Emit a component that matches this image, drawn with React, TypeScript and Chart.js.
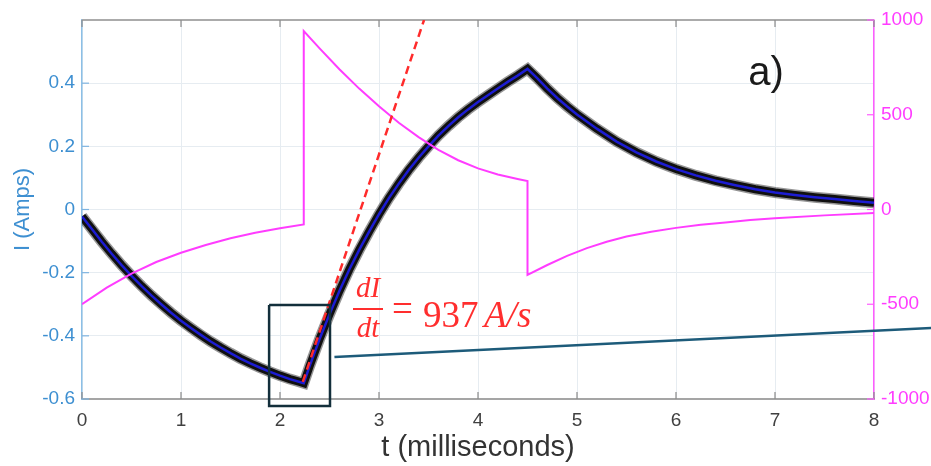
import React, { useEffect, useRef } from 'react';
import { Chart, registerables } from 'chart.js';

Chart.register(...registerables);

// ---- data ----
const T_CUR = [
  0, 0.1, 0.2, 0.3, 0.4, 0.5, 0.6, 0.7, 0.8, 0.9, 1.0, 1.1, 1.2, 1.3, 1.4, 1.5, 1.6, 1.7, 1.8, 1.9, 2.0, 2.1, 2.2, 2.24,
  2.3, 2.4, 2.5, 2.6, 2.7, 2.8, 2.9, 3.0, 3.1, 3.2, 3.3, 3.4, 3.5, 3.6, 3.7, 3.8, 3.9, 4.0, 4.1, 4.2, 4.3, 4.4, 4.5,
  4.6, 4.7, 4.8, 4.9, 5.0, 5.2, 5.4, 5.6, 5.8, 6.0, 6.2, 6.4, 6.6, 6.8, 7.0, 7.2, 7.4, 7.6, 7.8, 8.0,
];
const I_CUR = [
  -0.022, -0.062, -0.102, -0.14, -0.176, -0.21, -0.242, -0.272, -0.3, -0.327, -0.352, -0.375, -0.397, -0.418, -0.437,
  -0.455, -0.472, -0.487, -0.501, -0.514, -0.526, -0.537, -0.546, -0.55,
  -0.495, -0.41, -0.332, -0.258, -0.19, -0.128, -0.07, -0.015, 0.036, 0.082, 0.125, 0.164, 0.2, 0.234, 0.264, 0.292,
  0.317, 0.34, 0.362, 0.383, 0.404, 0.424, 0.445,
  0.415, 0.383, 0.353, 0.326, 0.301, 0.256, 0.215, 0.181, 0.152, 0.128, 0.108, 0.091, 0.077, 0.064, 0.054, 0.046,
  0.039, 0.033, 0.027, 0.021,
];
const T_V = [
  0, 0.25, 0.5, 0.75, 1.0, 1.25, 1.5, 1.75, 2.0, 2.24,
  2.24, 2.4, 2.6, 2.8, 3.0, 3.2, 3.4, 3.6, 3.8, 4.0, 4.2, 4.4, 4.5,
  4.5, 4.7, 4.9, 5.1, 5.3, 5.5, 5.75, 6.0, 6.25, 6.5, 6.75, 7.0, 7.5, 8.0,
];
const V_R = [
  -500, -412, -338, -277, -228, -187, -152, -123, -99, -79,
  941, 850, 740, 638, 545, 458, 382, 315, 260, 217, 185, 161, 150,
  -345, -293, -245, -204, -170, -143, -117, -97, -81, -68, -56, -46, -31, -18,
];
const TANGENT_T = [2.23, 3.455];
const TANGENT_I = [-0.546, 0.6];
const BOX_T = [1.89, 2.505, 2.505, 1.89, 1.89];
const BOX_I = [-0.302, -0.302, -0.622, -0.622, -0.302];
const POINTER_T = [2.55, 8.6];
const POINTER_I = [-0.467, -0.375];

const X_TICKS = [0, 1, 2, 3, 4, 5, 6, 7, 8];
const LEFT_TICKS = [-0.6, -0.4, -0.2, 0, 0.2, 0.4];
const RIGHT_TICKS = [-1000, -500, 0, 500, 1000];

const X_TITLE = 't (milliseconds)';
const Y_TITLE = 'I (Amps)';
const PANEL_LABEL = 'a)';
const SLOPE_NUM = 'dI';
const SLOPE_DEN = 'dt';
const SLOPE_VALUE = '937';
const SLOPE_UNIT = 'A/s';

const xy = (ts: number[], vs: number[]) => ts.map((t, i) => ({ x: t, y: vs[i] }));

const decor = {
  id: 'decor',
  beforeDatasetsDraw(chart: any) {
    const { ctx, chartArea: a, scales } = chart;
    const line = (x1: number, y1: number, x2: number, y2: number) => {
      ctx.beginPath();
      ctx.moveTo(x1, y1);
      ctx.lineTo(x2, y2);
      ctx.stroke();
    };
    ctx.save();
    ctx.strokeStyle = '#ababab';
    ctx.lineWidth = 2;
    line(a.left, a.top, a.right, a.top);
    ctx.lineWidth = 1.2;
    ctx.strokeStyle = '#8a8a8a';
    X_TICKS.forEach((v) => {
      const px = scales.x.getPixelForValue(v);
      line(px, a.bottom, px, a.bottom - 7);
      line(px, a.top, px, a.top + 7);
    });
    ctx.strokeStyle = '#7fb4e0';
    LEFT_TICKS.forEach((v) => {
      const py = scales.y.getPixelForValue(v);
      line(a.left, py, a.left + 7, py);
    });
    ctx.strokeStyle = '#ff5cff';
    RIGHT_TICKS.forEach((v) => {
      const py = scales.y2.getPixelForValue(v);
      line(a.right - 7, py, a.right, py);
    });
    ctx.restore();
  },
  afterDatasetsDraw(chart: any) {
    const { ctx, scales } = chart;
    ctx.save();
    // panel label
    ctx.fillStyle = '#1a1a1a';
    ctx.font = '40px "Liberation Sans", Arial, sans-serif';
    ctx.textAlign = 'left';
    ctx.textBaseline = 'alphabetic';
    ctx.fillText(PANEL_LABEL, scales.x.getPixelForValue(6.73), scales.y.getPixelForValue(0.394));

    // slope annotation
    const ax = scales.x.getPixelForValue(2.889);
    const ay = scales.y.getPixelForValue(-0.315);
    ctx.fillStyle = '#ff2e2e';
    ctx.strokeStyle = '#ff2e2e';
    ctx.textAlign = 'center';
    ctx.font = 'italic 29px "Liberation Serif", serif';
    ctx.fillText(SLOPE_NUM, ax, ay - 12);
    ctx.fillText(SLOPE_DEN, ax, ay + 28);
    ctx.lineWidth = 2;
    ctx.beginPath();
    ctx.moveTo(ax - 15, ay);
    ctx.lineTo(ax + 15, ay);
    ctx.stroke();
    ctx.textAlign = 'left';
    ctx.font = '37px "Liberation Serif", serif';
    ctx.fillText('=', ax + 24, ay + 12);
    ctx.fillText(SLOPE_VALUE, ax + 55, ay + 18);
    ctx.font = 'italic 37px "Liberation Serif", serif';
    ctx.fillText(SLOPE_UNIT, ax + 116, ay + 18);
    ctx.restore();
  },
};

export default function App() {
  const ref = useRef<HTMLCanvasElement>(null);
  useEffect(() => {
    const canvas = ref.current!;
    const chart = new Chart(canvas, {
      type: 'line',
      data: {
        datasets: [
          {
            label: 'tangent',
            data: xy(TANGENT_T, TANGENT_I),
            yAxisID: 'y',
            borderColor: '#ff2b2b',
            borderWidth: 2.5,
            borderDash: [8, 5],
            order: 2,
          },
          {
            label: 'box',
            data: xy(BOX_T, BOX_I),
            yAxisID: 'y',
            borderColor: '#132f3b',
            borderWidth: 2.5,
            clip: false,
            order: 1,
          },
          {
            label: 'pointer',
            data: xy(POINTER_T, POINTER_I),
            yAxisID: 'y',
            borderColor: '#1d5b7a',
            borderWidth: 2.5,
            clip: false,
            order: 1,
          },
          {
            label: 'V',
            data: xy(T_V, V_R),
            yAxisID: 'y2',
            borderColor: '#ff3cff',
            borderWidth: 2,
            order: 3,
          },
          {
            label: 'fit',
            data: xy(T_CUR, I_CUR),
            yAxisID: 'y',
            borderColor: '#1c1cd2',
            borderWidth: 2.5,
            order: 4,
          },
          {
            label: 'measured',
            data: xy(T_CUR, I_CUR),
            yAxisID: 'y',
            borderColor: '#101010',
            borderWidth: 8,
            order: 5,
          },
          {
            label: 'measured halo',
            data: xy(T_CUR, I_CUR),
            yAxisID: 'y',
            borderColor: 'rgba(20,20,20,0.45)',
            borderWidth: 11,
            order: 6,
          },
        ],
      },
      options: {
        animation: false,
        responsive: true,
        maintainAspectRatio: false,
        layout: { padding: { top: 20, left: 0, right: 0, bottom: 0 } },
        plugins: { legend: { display: false }, tooltip: { enabled: false } },
        elements: { point: { radius: 0 }, line: { tension: 0 } },
        scales: {
          x: {
            type: 'linear',
            min: 0,
            max: 8,
            afterBuildTicks: (s: any) => {
              s.ticks = X_TICKS.map((v) => ({ value: v }));
            },
            afterFit: (s: any) => {
              s.height = 67;
            },
            grid: { color: '#e6ecf1', drawTicks: false, lineWidth: 1 },
            border: { color: '#a5a5a5', width: 2 },
            ticks: {
              color: '#404040',
              font: { family: 'Liberation Sans', size: 19 },
              padding: 10,
              maxRotation: 0,
              autoSkip: false,
              callback: (v: any) => String(v),
            },
            title: {
              display: true,
              text: X_TITLE,
              color: '#333333',
              font: { family: 'Liberation Sans', size: 29 },
              padding: { top: 0, bottom: 1 },
            },
          },
          y: {
            type: 'linear',
            position: 'left',
            min: -0.6,
            max: 0.6,
            afterBuildTicks: (s: any) => {
              s.ticks = LEFT_TICKS.map((v) => ({ value: v }));
            },
            afterFit: (s: any) => {
              s.width = 82;
            },
            grid: { color: '#e6ecf1', drawTicks: false, lineWidth: 1 },
            border: { color: '#8cbfe6', width: 1.5 },
            ticks: {
              color: '#3d8fd1',
              font: { family: 'Liberation Sans', size: 19 },
              padding: 7,
              callback: (v: any) => (v === 0 ? '0' : Number(v).toFixed(1)),
            },
            title: {
              display: true,
              text: Y_TITLE,
              color: '#3d8fd1',
              font: { family: 'Liberation Sans', size: 22 },
              padding: { top: 10, bottom: 0 },
            },
          },
          y2: {
            type: 'linear',
            position: 'right',
            min: -1000,
            max: 1000,
            afterBuildTicks: (s: any) => {
              s.ticks = RIGHT_TICKS.map((v) => ({ value: v }));
            },
            afterFit: (s: any) => {
              s.width = 57;
            },
            grid: { drawOnChartArea: false, drawTicks: false },
            border: { color: '#ff5cff', width: 1.5 },
            ticks: {
              color: '#ff3cff',
              font: { family: 'Liberation Sans', size: 19 },
              padding: 7,
              callback: (v: any) => String(v),
            },
          },
        },
      },
      plugins: [decor],
    } as any);
    return () => chart.destroy();
  }, []);
  return (
    <div style={{ position: 'fixed', left: 0, top: 0, width: 931, height: 466, background: '#ffffff' }}>
      <canvas ref={ref} />
    </div>
  );
}
